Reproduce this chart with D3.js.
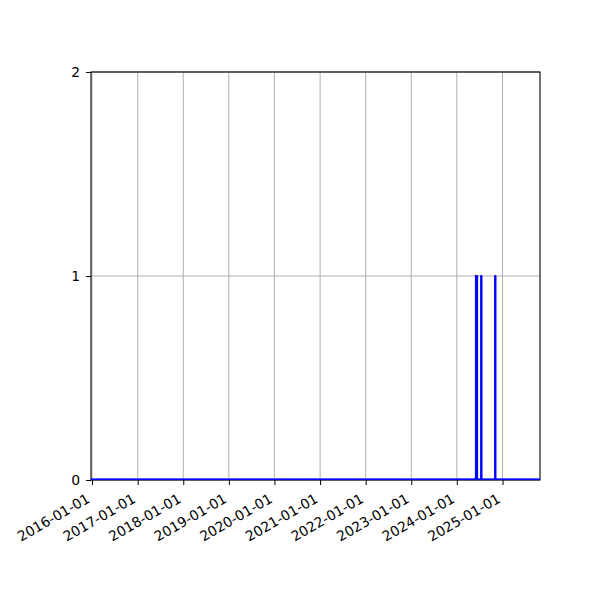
<!DOCTYPE html>
<html>
<head>
<meta charset="utf-8">
<script src="https://cdn.jsdelivr.net/npm/d3@7"></script>
<style>
  body { margin: 0; background: #fff; }
  text { font-family: "DejaVu Sans", sans-serif; }
</style>
</head>
<body>
<script>
// weekly counts: zero everywhere except the weeks listed in hits
const weeks = d3.timeMondays(new Date(2015, 11, 28), new Date(2025, 9, 27))
const hits = ['2024-06-03', '2024-06-10', '2024-07-15', '2024-11-04']
const counts = weeks.map(d => hits.includes(d3.timeFormat('%Y-%m-%d')(d)) ? 1 : 0)
const yTicks = [0, 1, 2]
const xTicks = d3.range(2016, 2026).map(y => new Date(y, 0, 1))

const width = 600
const height = 600
const margin = {top: 72, right: 60, bottom: 120, left: 91}

const svg = d3.select('body').append('svg')
  .attr('width', width)
  .attr('height', height)

const x = d3.scaleTime()
  .domain([new Date(2015, 11, 24), new Date(2025, 9, 28)])
  .range([margin.left, width - margin.right])

const y = d3.scaleLinear()
  .domain([0, 2])
  .range([height - margin.bottom, margin.top])

// grid
svg.append('g')
  .selectAll('line.vgrid')
  .data(xTicks).enter()
  .append('line')
  .attr('x1', d => x(d)).attr('x2', d => x(d))
  .attr('y1', y(0)).attr('y2', y(2))
  .attr('stroke', '#b0b0b0')
  .attr('stroke-width', 1)

svg.append('g')
  .selectAll('line.hgrid')
  .data(yTicks).enter()
  .append('line')
  .attr('x1', x.range()[0]).attr('x2', x.range()[1])
  .attr('y1', d => y(d)).attr('y2', d => y(d))
  .attr('stroke', '#b0b0b0')
  .attr('stroke-width', 1)

// frame
svg.append('rect')
  .attr('x', x.range()[0])
  .attr('y', y(2))
  .attr('width', x.range()[1] - x.range()[0])
  .attr('height', y(0) - y(2))
  .attr('fill', 'none')
  .attr('stroke', 'black')
  .attr('stroke-width', 1.1)

// bars as paths so zero weeks still draw their outline along the baseline
const halfWidth = 5.5 * 24 * 3600 * 1000
svg.append('g')
  .selectAll('path')
  .data(weeks.map((d, i) => ({date: d, value: counts[i]}))).enter()
  .append('path')
  .attr('d', d => {
    const x0 = x(new Date(+d.date - halfWidth))
    const x1 = x(new Date(+d.date + halfWidth))
    const y0 = y(0) - 1
    const y1 = y(d.value) - 0.5
    return 'M' + x0 + ',' + y0 + 'V' + y1 + 'H' + x1 + 'V' + y0 + 'Z'
  })
  .attr('fill', 'blue')
  .attr('stroke', 'blue')
  .attr('stroke-width', 1)

// axes
const xAxis = svg.append('g')
  .attr('transform', 'translate(0,' + y(0) + ')')
  .call(d3.axisBottom(x).tickValues(xTicks).tickFormat(d3.timeFormat('%Y-%m-%d')).tickSize(5).tickSizeOuter(0))

xAxis.select('.domain').remove()
xAxis.selectAll('text')
  .attr('font-size', 13.9)
  .attr('fill', 'black')
  .attr('text-anchor', 'end')
  .attr('dy', null)
  .attr('y', 0)
  .attr('transform', 'translate(-1.6,21.5) rotate(-30)')

const yAxis = svg.append('g')
  .attr('transform', 'translate(' + x.range()[0] + ',0)')
  .call(d3.axisLeft(y).tickValues(yTicks).tickFormat(d3.format('d')).tickSize(5).tickPadding(6).tickSizeOuter(0))

yAxis.select('.domain').remove()
yAxis.selectAll('text')
  .attr('font-size', 13.9)
  .attr('fill', 'black')
</script>
</body>
</html>
